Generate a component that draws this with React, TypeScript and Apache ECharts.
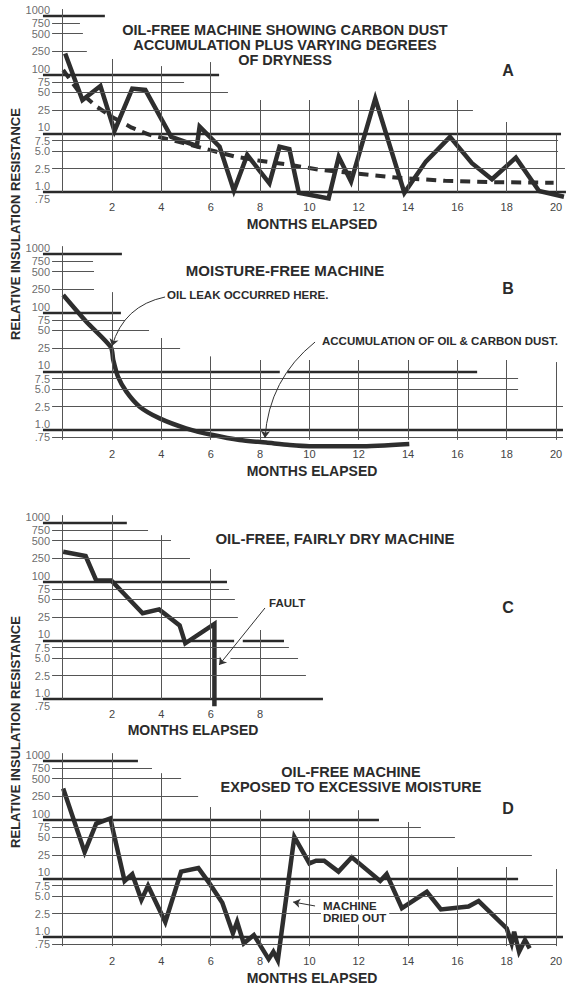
import React, { useEffect, useRef } from "react";
import * as echarts from "echarts";

const FONT = '"Liberation Sans", Arial, Helvetica, sans-serif';
const INK = "#2e2e2e";

// ---- axes ----
const yTickValues = [1000, 750, 500, 250, 100, 75, 50, 25, 10, 7.5, 5, 2.5, 1, 0.75];
const yTickLabels = ["1000", "750", "500", "250", "100", "75", "50", "25", "10", "7.5", "5.0", "2.5", "1.0", ".75"];
const decadeValues = [1000, 100, 10, 1];
const monthTicks = [0, 2, 4, 6, 8, 10, 12, 14, 16, 18, 20];

// ---- panel A ----
const monthsA = [0.1, 0.8, 1.53, 2.1, 2.82, 3.35, 4.4, 5.44, 5.55, 6.36, 6.94, 7.48, 8.38, 8.79, 9.19, 9.57, 10.78, 11.19, 11.69, 12.67, 13.85, 14.72, 15.7, 16.59, 17.4, 18.37, 19.31, 20.32];
const resistanceA = [230, 37, 64, 11, 58, 55, 8.7, 6.1, 13, 5.9, 1.05, 4.3, 1.4, 5.9, 5.4, 0.97, 0.78, 4.0, 1.5, 39, 0.97, 3.3, 8.7, 3.1, 1.65, 3.85, 1.04, 0.83];
const trendMonthsA = [0.02, 0.6, 1.4, 2.1, 2.8, 3.5, 4.4, 5.4, 6.2, 7, 8, 9, 10.4, 12, 13.6, 15.5, 17.4, 19.9];
const trendA = [120, 55, 28, 18, 12.5, 9.5, 7.7, 6, 4.9, 4, 3.4, 3, 2.4, 2.05, 1.75, 1.55, 1.47, 1.44];
// [value, from (null = default), to]
const gridLinesA = [[1000, null, 1.71], [750, null, 0.7], [500, null, 0.82], [250, null, 0.98], [100, null, 6.34], [75, null, 4.92], [50, null, 6.7], [25, null, 16.63], [10, null, 20.2], [7.5, null, 20.08], [5, null, 20.08], [2.5, null, 20.36], [1, null, 20.4]];
const verticalTopsA = [1312, 185, 140, 164, 37, 37, 37, 37, 37, 15.6, 9.4];
const verticalBottomA = 1;

// ---- panel B ----
const monthsB = [0.02, 0.96, 1.95, 2.05, 2.24, 2.58, 3.12, 3.93, 5.0, 6.09, 7.17, 8.25, 9.2, 10, 12, 14.05];
const resistanceB = [200, 70, 26, 15.6, 8.1, 4.5, 2.5, 1.58, 1.07, 0.82, 0.675, 0.61, 0.555, 0.53, 0.53, 0.58];
const gridLinesB = [[1000, null, 2.4], [750, null, 1.23], [500, null, 1.27], [250, null, 1.27], [100, null, 2.36], [75, null, 2.53], [50, null, 3.5], [25, null, 4.76], [10, null, 8.8], [10, 9.1, 16.8], [7.5, null, 18.46], [5, null, 18.46], [2.5, null, 20.28], [1, null, 20.28], [0.75, null, 20.28]];
const verticalTopsB = [1360, 224, 37, 18, 15.6, 15.6, 15.6, 15.6, 15.6, 15.6, 14.4];
const verticalBottomB = 0.68;

// ---- panel C ----
const monthsC = [0.02, 0.93, 1.36, 1.97, 3.24, 3.91, 4.74, 4.97, 6.15, 6.15];
const resistanceC = [323, 273, 105, 105, 29, 33.7, 18, 8.9, 19, 0.75];
const gridLinesC = [[1000, null, 2.6], [750, null, 3.46], [500, null, 4.39], [250, null, 5.16], [100, null, 6.66], [75, null, 6.74], [50, null, 6.98], [25, null, 7.1], [10, null, 6.95], [10, 7.3, 8.97], [7.5, null, 9.17], [5, null, 6.4], [5, 6.8, 9.54], [2.5, null, 9.86], [1, null, 10.55]];
const verticalTopsC = [1360, 1360, 620, 164, 15];
const verticalBottomC = 1;

// ---- panel D ----
const monthsD = [0.02, 0.89, 1.36, 1.93, 2.51, 2.82, 3.19, 3.46, 4.16, 4.8, 5.5, 5.95, 6.47, 6.9, 7.07, 7.34, 7.75, 8.35, 8.54, 8.72, 9.39, 10.0, 10.27, 10.6, 11.18, 11.72, 12.87, 13.13, 13.75, 14.76, 15.33, 16.45, 16.86, 18.0, 18.2, 18.3, 18.5, 18.74, 18.93];
const resistanceD = [341, 28, 86, 105, 9, 11.8, 4.3, 7.5, 1.8, 13, 15, 8.2, 3.84, 1.16, 1.82, 0.78, 1.08, 0.42, 0.56, 0.4, 51, 18, 20, 20, 13, 22.8, 9, 11.8, 3.1, 5.9, 2.95, 3.3, 4.1, 1.4, 0.78, 1.23, 0.56, 0.89, 0.64];
const gridLinesD = [[1000, null, 3.05], [750, null, 3.62], [500, null, 4.8], [250, null, 5.49], [100, null, 12.82], [75, null, 14.52], [50, null, 15.9], [25, null, 19.02], [10, null, 18.46], [7.5, null, 19.87], [5, null, 19.87], [2.5, null, 20.0], [1, null, 20.28], [0.75, null, 20.0]];
const verticalTopsD = [1360, 1360, 620, 164, 145, 145, 145, 91, 15.6, 15.6, 14.4];
const verticalBottomD = 0.7;

// ---- annotation arrows: [fromMonth, fromValue, toMonth, toValue, curveness] ----
const arrowsB = [[4.15, 185, 2.0, 27, -0.3], [10.23, 31.6, 8.2, 0.73, -0.22]];
const arrowsC = [[8.2, 35.6, 6.34, 3.8, 0]];
const arrowsD = [[10.23, 3.38, 9.34, 3.95, 0]];

const DECADE_PX = 58.67;
const X_LEFT = 13.35;
const X_WIDTH = 552.6;

const panels = [
  { y1000: 16, months: monthsA, values: resistanceA, lines: gridLinesA, tops: verticalTopsA, bottom: verticalBottomA, arrows: [], xMax: 20, margin: -21 },
  { y1000: 254, months: monthsB, values: resistanceB, lines: gridLinesB, tops: verticalTopsB, bottom: verticalBottomB, arrows: arrowsB, xMax: 20, margin: -12 },
  { y1000: 523, months: monthsC, values: resistanceC, lines: gridLinesC, tops: verticalTopsC, bottom: verticalBottomC, arrows: arrowsC, xMax: 8, margin: -21 },
  { y1000: 761, months: monthsD, values: resistanceD, lines: gridLinesD, tops: verticalTopsD, bottom: verticalBottomD, arrows: arrowsD, xMax: 20, margin: -12 },
];

function buildOption() {
  const grid: any[] = [];
  const xAxis: any[] = [];
  const yAxis: any[] = [];
  const series: any[] = [];

  panels.forEach((p, i) => {
    grid.push({
      left: X_LEFT,
      width: X_WIDTH,
      top: p.y1000 - Math.log10(1.5) * DECADE_PX,
      height: (Math.log10(1500) - Math.log10(0.3)) * DECADE_PX,
    });
    xAxis.push({
      gridIndex: i,
      type: "value",
      min: -2,
      max: 20.4,
      interval: 2,
      axisLine: { show: false },
      axisTick: { show: false },
      splitLine: { show: false },
      axisLabel: {
        margin: p.margin,
        fontSize: 11,
        fontFamily: FONT,
        color: "#444",
        showMaxLabel: false,
        formatter: (v: number) => (v > 0 && v <= p.xMax && Number.isInteger(v) ? String(v) : ""),
      },
    });
    yAxis.push({ gridIndex: i, type: "log", logBase: 10, min: 0.3, max: 1500, show: false });

    const mlData: any[] = [];
    p.lines.forEach((ln: any) => {
      const v = ln[0];
      const thick = decadeValues.includes(v);
      const from = ln[1] === null ? (thick ? -0.8 : -0.43) : ln[1];
      mlData.push([
        { coord: [from, v], lineStyle: { width: thick ? 2.4 : 1, color: thick ? "#2a2a2a" : "#555", type: "solid" } },
        { coord: [ln[2], v] },
      ]);
    });
    p.tops.forEach((top: number, k: number) => {
      const x = monthTicks[k];
      mlData.push([
        { coord: [x, p.bottom], lineStyle: { width: 1, color: "#555", type: "solid" } },
        { coord: [x, top] },
      ]);
    });

    series.push({
      type: "line",
      xAxisIndex: i,
      yAxisIndex: i,
      data: [],
      silent: true,
      z: 1,
      markLine: { silent: true, symbol: ["none", "none"], label: { show: false }, data: mlData },
    });

    series.push({
      type: "scatter",
      xAxisIndex: i,
      yAxisIndex: i,
      silent: true,
      symbolSize: 1,
      itemStyle: { color: "rgba(0,0,0,0)" },
      z: 2,
      label: {
        show: true,
        position: "left",
        distance: 1.5,
        fontSize: 11,
        fontFamily: FONT,
        color: "#444",
        formatter: (q: any) => q.name,
      },
      data: yTickValues.map((v, k) => ({
        name: yTickLabels[k],
        value: [-0.43, v],
        label: { offset: decadeValues.includes(v) ? [0, -6] : [0, 0] },
      })),
    });

    if (i === 0) {
      series.push({
        type: "line",
        xAxisIndex: i,
        yAxisIndex: i,
        symbol: "none",
        silent: true,
        z: 3,
        lineStyle: { width: 4, color: INK, type: [10, 7] },
        data: trendMonthsA.map((m, k) => [m, trendA[k]]),
      });
    }

    series.push({
      type: "line",
      xAxisIndex: i,
      yAxisIndex: i,
      symbol: "none",
      silent: true,
      smooth: i === 1 ? 0.25 : false,
      z: 4,
      lineStyle: { width: 4.5, color: INK, join: "miter", miterLimit: 4, cap: "butt" },
      data: p.months.map((m, k) => [m, p.values[k]]),
    });

    p.arrows.forEach((a: number[]) => {
      series.push({
        type: "lines",
        coordinateSystem: "cartesian2d",
        xAxisIndex: i,
        yAxisIndex: i,
        silent: true,
        z: 5,
        symbol: ["none", "arrow"],
        symbolSize: 7,
        lineStyle: { color: "#333", width: 1, type: "solid", opacity: 1, curveness: a[4] },
        data: [{ coords: [[a[0], a[1]], [a[2], a[3]]] }],
      });
    });
  });

  const txt = (text: string, x: number, y: number, size: number, align = "center", extra: any = {}) => ({
    type: "text",
    x,
    y,
    z: 100,
    silent: true,
    style: {
      text,
      font: `bold ${size}px ${FONT}`,
      fill: "#2b2b2b",
      align,
      textAlign: align,
      verticalAlign: "middle",
      textVerticalAlign: "middle",
      ...extra,
    },
  });

  const graphic: any[] = [
    txt("OIL-FREE MACHINE SHOWING CARBON DUST\nACCUMULATION PLUS VARYING DEGREES\nOF DRYNESS", 285, 44.5, 14.5, "center", { lineHeight: 15 }),
    txt("A", 508, 70, 16),
    txt("MONTHS ELAPSED", 312, 224, 14),

    txt("MOISTURE-FREE MACHINE", 285, 270, 15),
    txt("B", 508, 288, 16),
    txt("OIL LEAK OCCURRED HERE.", 167, 295, 11.5, "left"),
    txt("ACCUMULATION OF OIL & CARBON DUST.", 322, 341, 11.5, "left"),
    txt("MONTHS ELAPSED", 312, 471, 14),

    txt("OIL-FREE, FAIRLY DRY MACHINE", 335, 538, 15),
    txt("C", 508, 607, 16),
    txt("FAULT", 269, 603, 11.5, "left"),
    txt("MONTHS ELAPSED", 193, 730, 14),

    txt("OIL-FREE MACHINE\nEXPOSED TO EXCESSIVE MOISTURE", 351, 779.5, 14.5, "center", { lineHeight: 15 }),
    txt("D", 508, 808, 16),
    txt("MACHINE\nDRIED OUT", 321, 912, 11.5, "left", { lineHeight: 11.5, backgroundColor: "#fff", padding: [1, 3, 1, 2] }),
    txt("MONTHS ELAPSED", 312, 978, 14),

    { ...txt("RELATIVE INSULATION RESISTANCE", 15, 224, 13), rotation: Math.PI / 2 },
    { ...txt("RELATIVE INSULATION RESISTANCE", 15, 732, 13), rotation: Math.PI / 2 },
  ];

  return {
    animation: false,
    backgroundColor: "#ffffff",
    grid,
    xAxis,
    yAxis,
    series,
    graphic,
  };
}

export default function App() {
  const ref = useRef<HTMLDivElement>(null);
  useEffect(() => {
    if (!ref.current) return;
    const chart = echarts.init(ref.current, undefined, { renderer: "svg" });
    chart.setOption(buildOption() as any);
    return () => chart.dispose();
  }, []);
  return (
    <div
      ref={ref}
      style={{ position: "absolute", left: 0, top: 0, width: 566, height: 988, background: "#fff" }}
    />
  );
}
